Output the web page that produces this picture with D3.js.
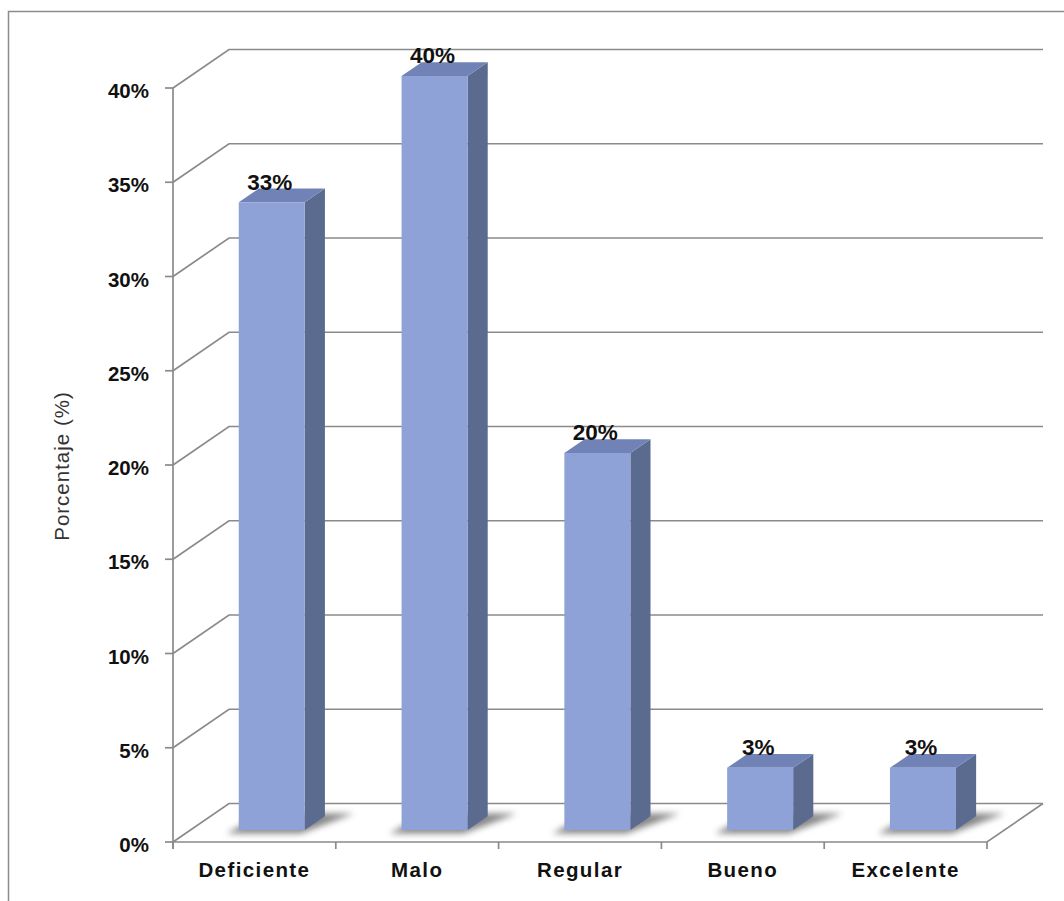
<!DOCTYPE html>
<html>
<head>
<meta charset="utf-8">
<script src="https://cdn.jsdelivr.net/npm/d3@7/dist/d3.min.js"></script>
<style>
  html, body { margin: 0; padding: 0; background: #ffffff; }
  svg { display: block; }
  text { font-family: "Liberation Sans", Arial, sans-serif; }
</style>
</head>
<body>
<svg id="chart" width="1064" height="901"></svg>
<script>
// Survey results: share of answers per rating
const categories = ["Deficiente", "Malo", "Regular", "Bueno", "Excelente"];
const percentages = [33.3, 40.0, 20.0, 3.3, 3.3];
const tickValues = [0, 5, 10, 15, 20, 25, 30, 35, 40];
const axisTitle = "Porcentaje (%)";

const svg = d3.select("#chart");

// Outer frame
svg.append("rect")
  .attr("x", 8.5).attr("y", 11.5)
  .attr("width", 1100).attr("height", 1000)
  .attr("fill", "#ffffff")
  .attr("stroke", "#8c8c8c")
  .attr("stroke-width", 1.5);

// Front plane of the 3D box and the depth offset toward the back wall
const plot = { left: 173, right: 987, top: 88, bottom: 842 };
const DEPTH = { dx: 56, dy: 38.5 };

const x = d3.scaleBand().domain(categories).range([plot.left, plot.right]);
const y = d3.scaleLinear().domain([0, 40]).range([plot.bottom, plot.top]);

// Project a point on the front plane (xf, value) to a given depth fraction
const P = (xf, v, f) => [xf + f * DEPTH.dx, y(v) - f * DEPTH.dy];
const poly = pts => "M" + pts.map(p => p.join(",")).join("L") + "Z";

const gridColor = "#8a8a8a";

// Side wall diagonals + back wall gridlines
const grid = svg.append("g").attr("fill", "none").attr("stroke", gridColor).attr("stroke-width", 1.7);
tickValues.forEach(t => {
  const a = P(plot.left, t, 0), b = P(plot.left, t, 1), c = P(plot.right, t, 1);
  grid.append("path").attr("d", `M${a}L${b}L${c}`);
});

// Floor: front edge and right edge
grid.append("path").attr("d", () => {
  const a = P(plot.left, 0, 0), b = P(plot.right, 0, 0), c = P(plot.right, 0, 1);
  return `M${a}L${b}L${c}`;
});

// Value axis line and ticks
const axisG = svg.append("g").attr("stroke", gridColor).attr("stroke-width", 1.7);
axisG.append("line")
  .attr("x1", plot.left).attr("x2", plot.left)
  .attr("y1", y(40)).attr("y2", y(0) + 7);
axisG.selectAll("line.yt").data(tickValues).join("line")
  .attr("class", "yt")
  .attr("x1", plot.left - 8).attr("x2", plot.left)
  .attr("y1", d => y(d)).attr("y2", d => y(d));
// Category ticks along the floor front edge
const catEdges = categories.map(c => x(c)).concat([plot.right]);
axisG.selectAll("line.xt").data(catEdges).join("line")
  .attr("class", "xt")
  .attr("x1", d => d).attr("x2", d => d)
  .attr("y1", y(0)).attr("y2", y(0) + 7);

// Tick labels
svg.append("g").selectAll("text").data(tickValues).join("text")
  .attr("x", 149)
  .attr("y", d => y(d) + 10)
  .attr("text-anchor", "end")
  .attr("font-size", 20.5)
  .attr("font-weight", "bold")
  .attr("fill", "#111")
  .text(d => d + "%");

// Axis title
svg.append("text")
  .attr("transform", "translate(69,466) rotate(-90)")
  .attr("text-anchor", "middle")
  .attr("font-size", 20.5)
  .attr("letter-spacing", 1)
  .attr("fill", "#333")
  .text(axisTitle);

// Category labels
svg.append("g").selectAll("text").data(categories).join("text")
  .attr("x", d => x(d) + x.bandwidth() / 2)
  .attr("y", 877)
  .attr("text-anchor", "middle")
  .attr("font-size", 20.5)
  .attr("font-weight", "bold")
  .attr("letter-spacing", 1.4)
  .attr("fill", "#111")
  .text(d => d);

// Soft floor shadow
const defs = svg.append("defs");
defs.append("filter").attr("id", "shadowBlur")
  .attr("x", "-30%").attr("y", "-60%").attr("width", "160%").attr("height", "220%")
  .append("feGaussianBlur").attr("stdDeviation", 3);

// Bar geometry: front face at depth f0, back at f1, half width hw
const f0 = 0.31, f1 = 0.67, hw = 33;

const bars = svg.append("g");
categories.forEach((c, i) => {
  const v = percentages[i];
  const cx = x(c) + x.bandwidth() / 2;
  const xl = cx - hw, xr = cx + hw;

  // shadow cast onto the floor
  bars.append("path")
    .attr("d", poly([P(cx - 40, 0, 0.22), P(cx + 34, 0, 0.22), P(cx + 58, 0, 0.74), P(cx - 33, 0, 0.74)]))
    .attr("fill", "#5e5e5e")
    .attr("opacity", 0.75)
    .attr("filter", "url(#shadowBlur)");

  // side face
  bars.append("path")
    .attr("d", poly([P(xr, 0, f0), P(xr, 0, f1), P(xr, v, f1), P(xr, v, f0)]))
    .attr("fill", "#5b6a8f");
  // top face
  bars.append("path")
    .attr("d", poly([P(xl, v, f0), P(xr, v, f0), P(xr, v, f1), P(xl, v, f1)]))
    .attr("fill", "#7183b6");
  // front face
  bars.append("path")
    .attr("d", poly([P(xl, 0, f0), P(xr, 0, f0), P(xr, v, f0), P(xl, v, f0)]))
    .attr("fill", "#8fa2d7");

  // value label
  const top = P(cx, v, f1);
  bars.append("text")
    .attr("x", cx + f0 * DEPTH.dx - 2)
    .attr("y", top[1] + 1)
    .attr("text-anchor", "middle")
    .attr("font-size", 22.5)
    .attr("font-weight", "bold")
    .attr("fill", "#111")
    .text(d3.format(".0f")(v) + "%");
});
</script>
</body>
</html>
